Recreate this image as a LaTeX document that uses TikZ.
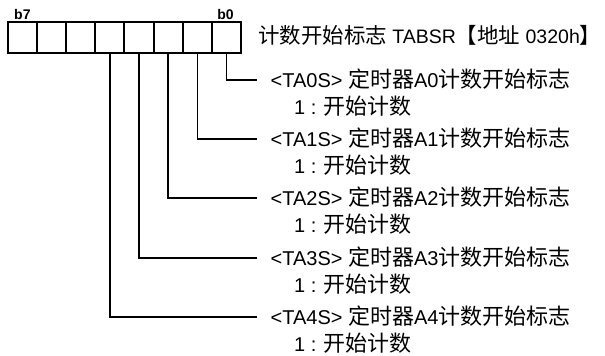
\documentclass[tikz,border=0pt]{standalone}
\usepackage{fontspec}
\setmainfont{Liberation Sans}
\newfontfamily\cjk{Noto Sans CJK SC}[Scale=1.1]
\usetikzlibrary{positioning}
\newcommand{\labelfont}{\fontsize{20}{22}\selectfont}
\tikzset{
  bitcell/.style={draw, line width=2pt, minimum width=29.1pt,
                  minimum height=31pt, inner sep=0pt, outer sep=0pt},
  bitnum/.style={font=\fontsize{14}{14}\selectfont\bfseries, inner sep=0pt},
  regtitle/.style={font=\fontsize{19.5}{22}\selectfont, inner sep=0pt, anchor=west,
                   text height=18pt, text depth=4pt},
  flagname/.style={font=\labelfont, inner xsep=13.5pt, inner ysep=0pt,
                   text height=18pt, text depth=4pt, anchor=west},
  flagdesc/.style={font=\labelfont, inner sep=0pt,
                   text height=18pt, text depth=4pt},
  leader/.style={line width=1.3pt}
}

\begin{document}
\begin{tikzpicture}[x=1pt, y=-1pt]
    \useasboundingbox[fill=white] (0,0) rectangle (605,356);

    % register cells, b7 ... b0
    \node[bitcell] (c7) at (22.55,37.5) {};
    \node[bitcell, right=0pt of c7] (c6) {};
    \node[bitcell, right=0pt of c6] (c5) {};
    \node[bitcell, right=0pt of c5] (c4) {};
    \node[bitcell, right=0pt of c4] (c3) {};
    \node[bitcell, right=0pt of c3] (c2) {};
    \node[bitcell, right=0pt of c2] (c1) {};
    \node[bitcell, right=0pt of c1] (c0) {};

    \node[bitnum, anchor=south west, xshift=6pt, yshift=2pt] (b7) at (c7.north west) {b7};
    \node[bitnum, anchor=south east, xshift=-7pt, yshift=2pt] (b0) at (c0.north east) {b0};

    \node[regtitle] (title) at (258,36)
      {{\cjk 计数开始标志} TABSR{\cjk 【地址} 0320h{\cjk 】}};

    % flag labels
    \node[flagname] (n0) at (257,80) {<TA0S> {\cjk 定时器}A0{\cjk 计数开始标志}};
    \node[flagdesc, below right=5pt and 37pt of n0.south west] (d0) {1 : {\cjk 开始计数}};
    \node[flagname] (n1) at (257,139) {<TA1S> {\cjk 定时器}A1{\cjk 计数开始标志}};
    \node[flagdesc, below right=5pt and 37pt of n1.south west] (d1) {1 : {\cjk 开始计数}};
    \node[flagname] (n2) at (257,198) {<TA2S> {\cjk 定时器}A2{\cjk 计数开始标志}};
    \node[flagdesc, below right=5pt and 37pt of n2.south west] (d2) {1 : {\cjk 开始计数}};
    \node[flagname] (n3) at (257,258) {<TA3S> {\cjk 定时器}A3{\cjk 计数开始标志}};
    \node[flagdesc, below right=5pt and 37pt of n3.south west] (d3) {1 : {\cjk 开始计数}};
    \node[flagname] (n4) at (257,317) {<TA4S> {\cjk 定时器}A4{\cjk 计数开始标志}};
    \node[flagdesc, below right=5pt and 37pt of n4.south west] (d4) {1 : {\cjk 开始计数}};

    \draw[leader] (c0.south) |- (n0.west);
    \draw[leader] (c1.south) |- (n1.west);
    \draw[leader] (c2.south) |- (n2.west);
    \draw[leader] (c3.south) |- (n3.west);
    \draw[leader] (c4.south) |- (n4.west);
\end{tikzpicture}
\end{document}
